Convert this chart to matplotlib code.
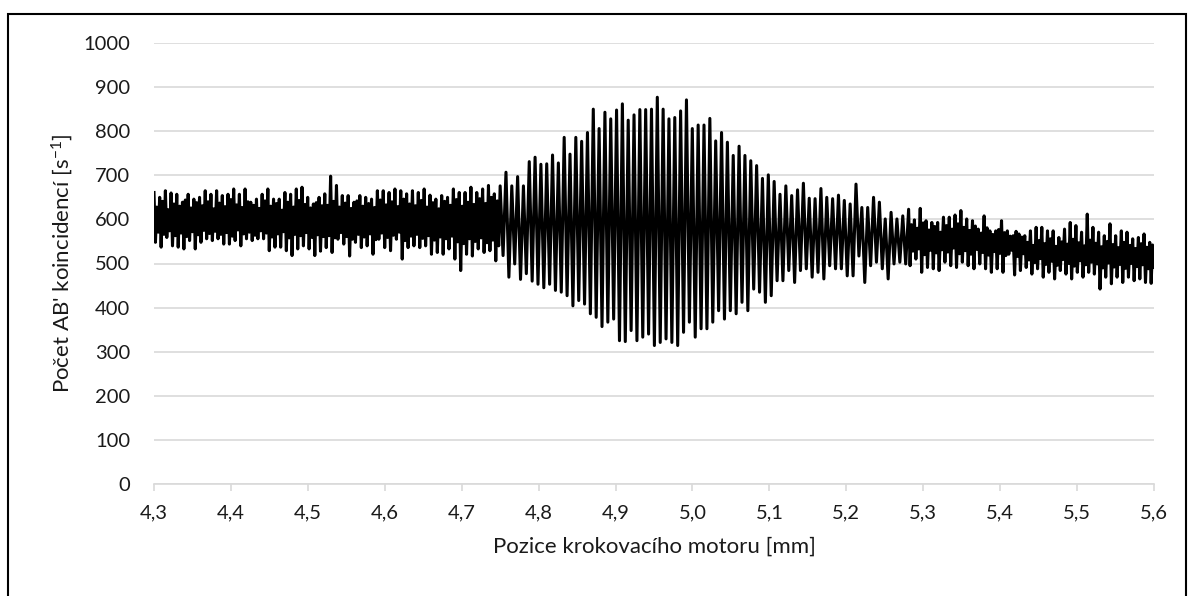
import numpy as np
import matplotlib.pyplot as plt
from matplotlib.patches import Rectangle

plt.rcParams['font.family'] = ['Lato', 'DejaVu Sans']
plt.rcParams['mathtext.fontset'] = 'custom'
plt.rcParams['mathtext.rm'] = 'Lato'
plt.rcParams['mathtext.default'] = 'regular'

# local maxima / minima of the coincidence rate (s^-1), read left to right,
# one list pair per stretch of the scan; the noisy wings are sampled denser
peaks_a = [661, 628, 650, 641, 665, 622, 660, 635, 657, 630, 639, 644, 657, 626, 646, 638,
           650, 631, 665, 640, 657, 624, 665, 637, 654, 629, 657, 645, 669, 633, 657, 627,
           669, 640, 639, 632, 646, 625, 657, 642, 669, 630, 646, 636, 646, 621, 661, 639,
           657, 628, 669, 643, 673, 634, 650, 626, 635, 638, 650, 631]
troughs_a = [548, 571, 537, 566, 559, 574, 540, 563, 537, 569, 533, 561, 552, 572, 533, 565,
             548, 575, 556, 568, 552, 573, 556, 566, 544, 570, 544, 562, 552, 576, 540, 567,
             556, 571, 552, 564, 556, 574, 556, 569, 529, 560, 537, 567, 537, 572, 529, 558,
             518, 566, 533, 563, 540, 570, 533, 559, 518, 565, 528, 561]

peaks_b = [658, 632, 698, 641, 677, 628, 654, 637, 654, 625, 639, 642, 654, 630, 650, 636,
           646, 627, 665, 644, 665, 633, 661, 640, 669, 629, 665, 646, 658, 635, 665, 631,
           661, 643, 669, 628, 655, 638, 646, 624, 654, 641, 650, 632, 669, 645, 661, 630,
           661, 639, 673, 634, 661, 647, 669, 636, 677, 650, 658, 642]
troughs_b = [536, 563, 525, 558, 555, 570, 544, 561, 517, 555, 548, 566, 536, 560, 540, 567,
             521, 554, 555, 569, 536, 559, 529, 564, 555, 571, 510, 552, 536, 562, 540, 566,
             536, 557, 540, 563, 521, 553, 525, 560, 521, 556, 533, 562, 510, 549, 484, 545,
             521, 556, 517, 550, 533, 558, 525, 547, 529, 553, 506, 540]

peaks_c = [676, 707, 676, 697, 676, 731, 741, 725, 726, 746, 728, 786, 748, 786, 777,
           797, 850, 806, 843, 828, 848, 862, 825, 837, 849, 849, 850, 877, 850, 828]
troughs_c = [518, 469, 499, 464, 477, 460, 453, 445, 453, 439, 435, 427, 404, 416, 408,
             386, 378, 357, 367, 374, 325, 323, 348, 325, 333, 340, 314, 321, 329, 321]

peaks_d = [831, 846, 871, 806, 814, 814, 829, 778, 797, 775, 745, 766, 745, 733, 722,
           693, 701, 686, 657, 676, 654, 667, 682, 648, 647, 670, 650, 647, 655, 643]
troughs_d = [314, 344, 367, 333, 352, 352, 367, 393, 374, 393, 386, 412, 393, 442, 435,
             412, 427, 461, 461, 484, 457, 484, 488, 469, 480, 465, 495, 488, 488, 472]

peaks_e = [635, 680, 627, 627, 650, 639, 601, 616, 601, 608]
troughs_e = [472, 517, 457, 495, 503, 488, 465, 499, 503, 499]

peaks_g = [623, 588, 599, 580, 625, 592, 597, 576, 593, 584, 593, 571, 605, 586, 605, 578,
           610, 590, 620, 582, 601, 575, 597, 585, 578, 569, 608, 581, 574, 566, 574, 577,
           597, 570, 574, 562, 563, 573, 567, 560]
troughs_g = [495, 528, 510, 533, 480, 520, 491, 530, 488, 524, 484, 531, 503, 526, 495, 535,
             491, 522, 503, 529, 495, 521, 488, 532, 499, 525, 488, 519, 480, 527, 488, 523,
             480, 518, 521, 530, 474, 516, 484, 522]

peaks_f = [563, 548, 574, 541, 582, 552, 582, 545, 574, 556, 574, 539, 559, 549, 578, 544,
           593, 555, 586, 547, 571, 540, 612, 553, 582, 546, 571, 538, 563, 550, 590, 543,
           563, 536, 574, 548, 571, 541, 556, 534, 559, 545, 567, 537, 548, 542]
troughs_f = [491, 508, 476, 502, 488, 511, 469, 498, 480, 505, 465, 496, 484, 509, 476, 500,
             465, 494, 480, 506, 469, 497, 480, 503, 476, 499, 442, 490, 469, 501, 454, 492,
             469, 498, 457, 489, 469, 500, 461, 493, 465, 497, 457, 488, 455, 491]

# motor position (mm) where each stretch starts / the scan ends
seg_edges = [4.300, 4.522, 4.750, 4.977, 5.205, 5.281, 5.432, 5.600]

xtick_vals = [4.3, 4.4, 4.5, 4.6, 4.7, 4.8, 4.9, 5.0, 5.1, 5.2, 5.3, 5.4, 5.5, 5.6]
xtick_labels = ['4,3', '4,4', '4,5', '4,6', '4,7', '4,8', '4,9', '5,0', '5,1', '5,2',
                '5,3', '5,4', '5,5', '5,6']
ytick_vals = [0, 100, 200, 300, 400, 500, 600, 700, 800, 900, 1000]

segments = [(peaks_a, troughs_a), (peaks_b, troughs_b), (peaks_c, troughs_c),
            (peaks_d, troughs_d), (peaks_e, troughs_e), (peaks_g, troughs_g),
            (peaks_f, troughs_f)]
pos, rate = [], []
for i, (p, t) in enumerate(segments):
    vals = np.column_stack([p, t]).ravel()
    last = i == len(segments) - 1
    pos.append(np.linspace(seg_edges[i], seg_edges[i + 1], len(vals), endpoint=last))
    rate.append(vals)
pos = np.concatenate(pos)
rate = np.concatenate(rate)

fig = plt.figure(figsize=(11.88, 5.96), dpi=100)
ax = fig.add_axes([154 / 1188, 1 - 484 / 596, 1000 / 1188, 441 / 596])

ax.plot(pos, rate, color='black', lw=2.2, solid_joinstyle='round', zorder=3)

ax.set_xlim(4.3, 5.6)
ax.set_ylim(0, 1000)
ax.set_xticks(xtick_vals)
ax.set_xticklabels(xtick_labels)
ax.set_yticks(ytick_vals)
ax.grid(True, axis='y', color='#d9d9d9', lw=1.2)
ax.set_axisbelow(True)
for side in ['left', 'right', 'top']:
    ax.spines[side].set_visible(False)
ax.spines['bottom'].set_color('#d9d9d9')
ax.spines['bottom'].set_linewidth(1.2)
ax.tick_params(axis='x', direction='out', length=5, color='#d9d9d9', width=1.2,
               labelsize=14.5, pad=10, labelcolor='#1a1a1a')
ax.tick_params(axis='y', length=0, labelsize=14.5, pad=17, labelcolor='#1a1a1a')

ax.set_xlabel('Pozice krokovacího motoru [mm]', fontsize=16, labelpad=11, color='#1a1a1a')
ax.set_ylabel("Počet AB' koincidencí [s$^{-1}$]", fontsize=16, labelpad=6, color='#1a1a1a')

fig.patches.append(Rectangle((8 / 1188, -0.02), 1178 / 1188, 1.02 - 14 / 596,
                             transform=fig.transFigure, fill=False, edgecolor='black', lw=1.5))

plt.savefig('out.png', dpi=100)
